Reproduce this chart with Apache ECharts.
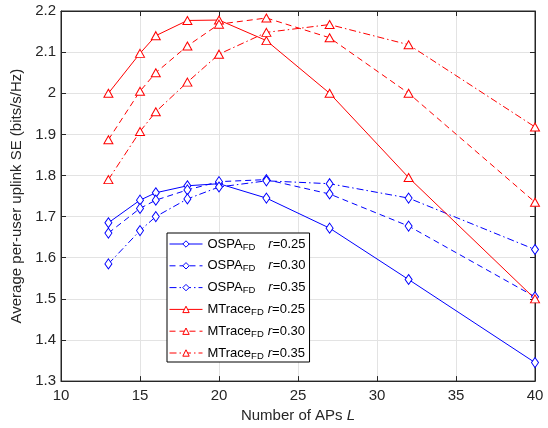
<!DOCTYPE html>
<html><head><meta charset="utf-8">
<script src="https://cdn.jsdelivr.net/npm/echarts@6/dist/echarts.min.js"></script>
<style>html,body{margin:0;padding:0;background:#fff}#c{width:548px;height:428px}</style>
</head><body><div id="c"></div>
<script>
const xValues = [13, 15, 16, 18, 20, 23, 27, 32, 40];
const ospa025 = [1.685, 1.740, 1.758, 1.775, 1.780, 1.745, 1.672, 1.547, 1.345];
const ospa030 = [1.660, 1.720, 1.740, 1.765, 1.785, 1.790, 1.755, 1.677, 1.505];
const ospa035 = [1.585, 1.666, 1.700, 1.743, 1.772, 1.787, 1.780, 1.745, 1.620];
const mtrace025 = [2.000, 2.097, 2.140, 2.177, 2.178, 2.128, 2.000, 1.795, 1.500];
const mtrace030 = [1.887, 2.005, 2.050, 2.115, 2.168, 2.183, 2.135, 2.000, 1.735];
const mtrace035 = [1.790, 1.907, 1.955, 2.027, 2.095, 2.148, 2.167, 2.118, 1.918];
const seriesNames = ['OSPA r=0.25','OSPA r=0.30','OSPA r=0.35','MTrace r=0.25','MTrace r=0.30','MTrace r=0.35'];
const xTicks = [10, 15, 20, 25, 30, 35, 40];
const yTicks = [1.3, 1.4, 1.5, 1.6, 1.7, 1.8, 1.9, 2.0, 2.1, 2.2];

const blue = '#0000ff', red = '#ff0000';
const dashed = [6, 4], dashdot = [7, 3, 1.5, 3];
const styles = ['solid', dashed, dashdot, 'solid', dashed, dashdot];
const colors = [blue, blue, blue, red, red, red];
const pair = a => xValues.map((x, i) => [x, a[i]]);
function mk(name, data, color, type, symbol, size) {
  return {
    name, type: 'line', data: pair(data), symbol, symbolSize: size,
    showSymbol: true,
    lineStyle: { color, width: 1, type },
    itemStyle: { color: '#fff', borderColor: color, borderWidth: 1 },
    emphasis: { disabled: true }, animation: false, z: 3
  };
}
const diamond = 'diamond', tri = 'triangle';
const chart = echarts.init(document.getElementById('c'));
const axisCol = '#262626';
const ff = '"Liberation Sans", Arial, Helvetica, sans-serif';
const legFs = 13;
chart.setOption({
  animation: false,
  textStyle: { fontFamily: ff },
  grid: { left: 61, right: 13, top: 11, bottom: 46, show: true, borderColor: axisCol, borderWidth: 1, backgroundColor: '#fff' },
  legend: {
    left: 167, top: 233, orient: 'vertical',
    backgroundColor: '#fff', borderColor: '#000', borderWidth: 1,
    padding: [2, 4, 1, 2], itemGap: 4.8, itemWidth: 33, itemHeight: 8,
    lineStyle: { width: 1 },
    data: seriesNames.map((n, i) => ({ name: n, lineStyle: { width: 1, type: styles[i], color: colors[i] }, itemStyle: { color: '#fff', borderColor: colors[i], borderWidth: 1 } })),
    formatter: n => {
      const p = n.split(' ');
      const r = p[1].split('=')[1];
      const gap = p[0] === 'OSPA' ? 'g1' : 'g2';
      return '{n|' + p[0] + '}{s|FD}{' + gap + '|}{i|r}{v|=' + r + '}';
    },
    textStyle: {
      fontFamily: ff, color: '#000', fontSize: legFs, lineHeight: 16,
      rich: {
        n: { fontSize: legFs, fontFamily: ff, color: '#000', lineHeight: 16 },
        s: { fontSize: 9.5, fontFamily: ff, color: '#000', verticalAlign: 'bottom', lineHeight: 16, padding: [7, 0, 0, 0] },
        g1: { width: 13 },
        g2: { width: 4 },
        i: { fontSize: legFs, fontStyle: 'italic', fontFamily: ff, color: '#000', lineHeight: 16 },
        v: { fontSize: legFs, fontFamily: ff, color: '#000', lineHeight: 16 }
      }
    }
  },
  xAxis: [{
    type: 'value', min: 10, max: 40, interval: 5,
    name: 'Number of APs {i|L}', nameLocation: 'middle', nameGap: 21,
    nameTextStyle: { fontSize: 15, color: axisCol, fontFamily: ff, rich: { i: { fontSize: 15, fontStyle: 'italic', color: axisCol, fontFamily: ff } } },
    axisLine: { lineStyle: { color: axisCol } },
    axisTick: { inside: true, length: 5, lineStyle: { color: axisCol } },
    axisLabel: { color: axisCol, fontSize: 15, margin: 7, formatter: v => xTicks.includes(v) ? String(v) : '' },
    splitLine: { show: true, lineStyle: { color: '#e3e3e3', width: 1 } }
  }, {
    type: 'value', min: 10, max: 40, interval: 5, position: 'top',
    axisLine: { show: true, lineStyle: { color: axisCol } },
    axisTick: { inside: true, length: 5, lineStyle: { color: axisCol } },
    axisLabel: { show: false }, splitLine: { show: false }
  }],
  yAxis: [{
    type: 'value', min: 1.3, max: 2.2, interval: 0.1,
    name: 'Average per-user uplink SE (bits/s/Hz)', nameLocation: 'middle', nameGap: 37,
    nameTextStyle: { fontSize: 15, color: axisCol, fontFamily: ff },
    axisLine: { show: true, lineStyle: { color: axisCol } },
    axisTick: { show: true, inside: true, length: 5, lineStyle: { color: axisCol } },
    axisLabel: { color: axisCol, fontSize: 15, margin: 5, formatter: v => { const t = yTicks.find(y => Math.abs(y - v) < 1e-6); return t === undefined ? '' : (Math.abs(t - 2) < 1e-6 ? '2' : t.toFixed(1)); } },
    splitLine: { show: true, lineStyle: { color: '#e3e3e3', width: 1 } }
  }, {
    type: 'value', min: 1.3, max: 2.2, interval: 0.1, position: 'right',
    axisLine: { show: true, lineStyle: { color: axisCol } },
    axisTick: { show: true, inside: true, length: 5, lineStyle: { color: axisCol } },
    axisLabel: { show: false }, splitLine: { show: false }
  }],
  series: [
    mk(seriesNames[0], ospa025, blue, styles[0], diamond, [7, 10]),
    mk(seriesNames[1], ospa030, blue, styles[1], diamond, [7, 10]),
    mk(seriesNames[2], ospa035, blue, styles[2], diamond, [7, 10]),
    mk(seriesNames[3], mtrace025, red, styles[3], tri, [9, 8]),
    mk(seriesNames[4], mtrace030, red, styles[4], tri, [9, 8]),
    mk(seriesNames[5], mtrace035, red, styles[5], tri, [9, 8])
  ]
});
</script></body></html>
